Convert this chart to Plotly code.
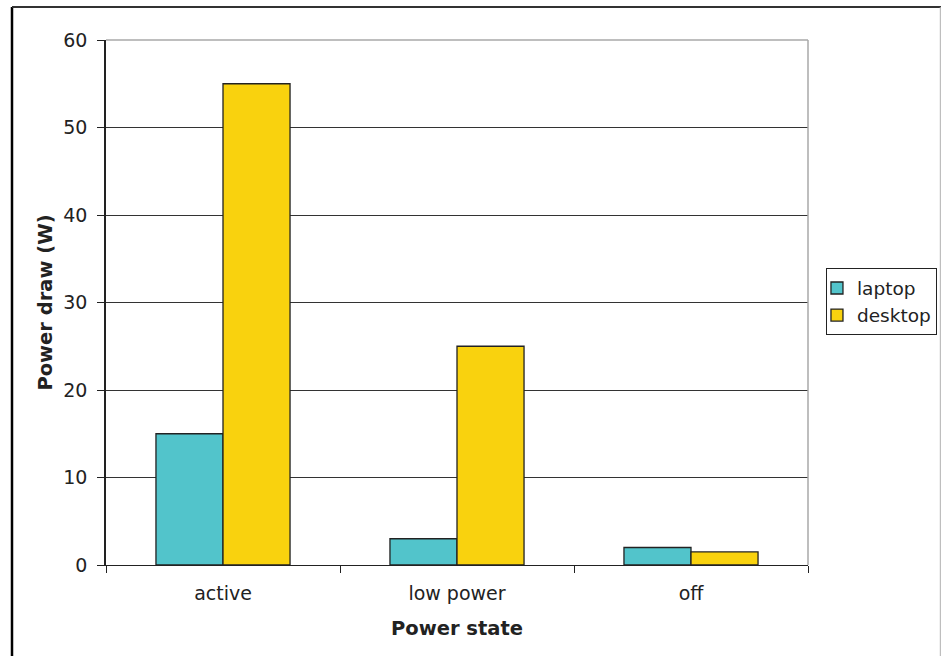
import plotly.graph_objects as go

# Power draw by state for two machine types
states = ["active", "low power", "off"]
laptop = [15, 3, 2]
desktop = [55, 25, 1.5]
y_ticks = [0, 10, 20, 30, 40, 50, 60]

FONT = "DejaVu Sans, Verdana, sans-serif"
INK = "#222222"

fig = go.Figure()
fig.add_trace(go.Bar(
    name="laptop", x=states, y=laptop,
    marker=dict(color="#52c4cb", line=dict(color=INK, width=1.3)),
))
fig.add_trace(go.Bar(
    name="desktop", x=states, y=desktop,
    marker=dict(color="#f9d20e", line=dict(color=INK, width=1.3)),
))

fig.update_layout(
    width=941, height=656,
    margin=dict(l=106, r=133, t=40, b=91, autoexpand=False),
    paper_bgcolor="white", plot_bgcolor="white",
    barmode="group", bargap=0.427, bargroupgap=0,
    font=dict(family=FONT, size=19, color=INK),
    showlegend=True,
    legend=dict(
        x=1.0256, xanchor="left", y=0.501, yanchor="middle",
        bordercolor=INK, borderwidth=1, bgcolor="white",
        font=dict(family=FONT, size=18.5, color=INK),
        itemwidth=30, tracegroupgap=0, indentation=-10,
    ),
    xaxis=dict(
        title=dict(text="<b>Power state</b>", font=dict(family=FONT, size=19.5), standoff=18),
        showline=True, linecolor=INK, linewidth=1,
        ticks="outside", tickson="boundaries", ticklen=7, tickcolor=INK,
        ticklabelstandoff=11,
        showgrid=False, zeroline=False,
    ),
    yaxis=dict(
        title=dict(text="<b>Power draw (W)</b>", font=dict(family=FONT, size=19.5), standoff=5),
        range=[0, 60], tickvals=y_ticks,
        showline=True, linecolor=INK, linewidth=1.5,
        ticks="outside", ticklen=7, tickcolor=INK,
        ticklabelstandoff=6,
        showgrid=True, gridcolor="#333333", gridwidth=1,
        zeroline=False,
    ),
)

# Light grey top and right edges of the plotting area
fig.add_shape(type="line", xref="paper", yref="paper", x0=0, x1=1, y0=1, y1=1,
              line=dict(color="#a8a8a8", width=1.5), layer="above")
fig.add_shape(type="line", xref="paper", yref="paper", x0=1, x1=1, y0=0, y1=1,
              line=dict(color="#a8a8a8", width=1.5), layer="above")

# Outer frame around the chart
fig.add_shape(type="line", xref="paper", yref="paper", x0=-0.1339, x1=-0.1339, y0=-0.2, y1=1.0629,
              line=dict(color="black", width=2.5), layer="above")
fig.add_shape(type="line", xref="paper", yref="paper", x0=-0.1339, x1=1.2, y0=1.0629, y1=1.0629,
              line=dict(color="#333333", width=2), layer="above")
fig.add_shape(type="line", xref="paper", yref="paper", x0=1.1885, x1=1.1885, y0=-0.2, y1=1.0629,
              line=dict(color="#b0b0b0", width=1), layer="above")

fig.write_html("out.html")
